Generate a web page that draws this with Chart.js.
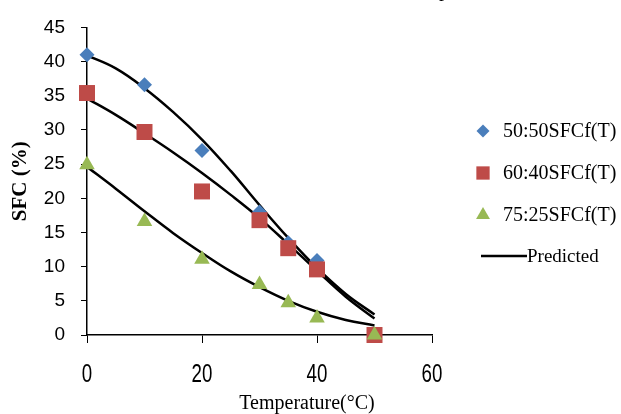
<!DOCTYPE html>
<html>
<head>
<meta charset="utf-8">
<script src="https://cdn.jsdelivr.net/npm/chart.js@4"></script>
<style>
  body { margin: 0; background: #fff; }
</style>
</head>
<body>
<canvas id="myChart" width="621" height="414"></canvas>
<script>
// measured points
const temps = [0, 10, 20, 30, 35, 40, 50];
const sfc5050 = [41.0, 36.6, 27.0, 18.0, 13.5, 10.9, 0];
const sfc6040 = [35.4, 29.7, 21.0, 16.8, 12.7, 9.6, 0];
const sfc7525 = [24.9, 16.6, 11.1, 7.4, 4.7, 2.5, 0];

// predicted curves, every 5 degrees
const fitTemps = [0, 5, 10, 15, 20, 25, 30, 35, 40, 45, 50];
const fit5050 = [40.9, 39.0, 36.1, 32.6, 28.6, 24.0, 19.0, 14.2, 9.8, 6.0, 3.0];
const fit6040 = [34.6, 32.2, 29.5, 26.7, 23.7, 20.5, 17.1, 13.3, 9.4, 5.6, 2.4];
const fit7525 = [24.6, 21.4, 18.1, 14.9, 12.0, 9.3, 7.0, 5.0, 3.4, 2.2, 1.4];

const xTicks = [0, 20, 40, 60];
const yTicks = [0, 5, 10, 15, 20, 25, 30, 35, 40, 45];

const seriesNames = ['50:50SFCf(T)', '60:40SFCf(T)', '75:25SFCf(T)', 'Predicted'];
const blue = '#4a7ebb';
const red = '#be4b48';
const green = '#98b954';

const sans = "'Liberation Sans', Arial, sans-serif";
const serif = "'Liberation Serif', 'Times New Roman', serif";

function pts(xs, ys) {
    return xs.map((x, i) => ({ x: x, y: ys[i] }));
}

function fitLine(ys) {
    return {
        label: 'Predicted',
        data: pts(fitTemps, ys),
        showLine: true,
        borderColor: '#000',
        borderWidth: 2.5,
        pointRadius: 0,
        tension: 0.4,
        fill: false,
        order: 5
    };
}

function markers(label, ys, style, color, r, order) {
    return {
        label: label,
        data: pts(temps, ys),
        showLine: false,
        pointStyle: style,
        pointRadius: r,
        pointHoverRadius: r,
        backgroundColor: color,
        borderColor: color,
        borderWidth: 0,
        clip: false,
        order: order
    };
}

// legend, x tick labels (squeezed like the original) and x title
const extras = {
    id: 'extras',
    afterDraw(chart) {
        const ctx = chart.ctx;
        ctx.save();
        const items = [
            { style: 'rectRot', color: blue, r: 6.5, y: 131 },
            { style: 'rect', color: red, r: 9.4, y: 173 },
            { style: 'triangle', color: green, r: 8, y: 215 }
        ];
        ctx.font = '20px ' + serif;
        ctx.textBaseline = 'middle';
        ctx.textAlign = 'left';
        items.forEach((it, i) => {
            ctx.fillStyle = it.color;
            Chart.helpers.drawPoint(ctx, { pointStyle: it.style, radius: it.r, rotation: 0, borderWidth: 0 }, 483, it.y);
            ctx.fillStyle = '#000';
            ctx.fillText(seriesNames[i], 503, it.y + 1);
        });
        ctx.strokeStyle = '#000';
        ctx.lineWidth = 2.5;
        ctx.beginPath();
        ctx.moveTo(481, 256);
        ctx.lineTo(527, 256);
        ctx.stroke();
        ctx.font = '19px ' + serif;
        ctx.fillText(seriesNames[3], 527, 257);

        // x tick labels
        const xs = chart.scales.x;
        ctx.font = '26px ' + sans;
        ctx.textAlign = 'center';
        ctx.textBaseline = 'alphabetic';
        xTicks.forEach(v => {
            const px = xs.getPixelForValue(v);
            ctx.save();
            ctx.translate(px, 382);
            ctx.scale(0.72, 1);
            ctx.fillText(String(v), 0, 0);
            ctx.restore();
        });

        ctx.font = '20px ' + serif;
        ctx.fillText('Temperature(\u00B0C)', 307, 409);
        ctx.fillText('p', 444, -4);
        ctx.restore();
    }
};

const config = {
    type: 'scatter',
    data: {
        datasets: [
            markers(seriesNames[0], sfc5050, 'rectRot', blue, 7.5, 2),
            markers(seriesNames[1], sfc6040, 'rect', red, 11.3, 1),
            markers(seriesNames[2], sfc7525, 'triangle', green, 9, 0),
            fitLine(fit5050),
            fitLine(fit6040),
            fitLine(fit7525)
        ]
    },
    options: {
        responsive: false,
        animation: false,
        devicePixelRatio: 1,
        layout: {
            padding: { top: 21, right: 189, left: 0, bottom: 0 }
        },
        scales: {
            x: {
                type: 'linear',
                min: 0,
                max: 60,
                z: 1,
                afterBuildTicks: s => { s.ticks = xTicks.map(v => ({ value: v })); },
                afterFit: s => { s.height = 79; },
                ticks: { display: false },
                grid: {
                    drawOnChartArea: false,
                    drawTicks: true,
                    tickLength: 8,
                    tickColor: '#000',
                    tickWidth: 1
                },
                border: { color: '#000', width: 1.5 }
            },
            y: {
                min: 0,
                max: 45,
                z: 1,
                afterBuildTicks: s => { s.ticks = yTicks.map(v => ({ value: v })); },
                afterFit: s => { s.width = 87; },
                ticks: {
                    color: '#000',
                    font: { family: sans, size: 19 },
                    padding: 16
                },
                grid: {
                    drawOnChartArea: false,
                    drawTicks: true,
                    tickLength: 6,
                    tickColor: '#000',
                    tickWidth: 1
                },
                border: { color: '#000', width: 1.5 },
                title: {
                    display: true,
                    text: 'SFC (%)',
                    color: '#000',
                    font: { family: serif, size: 21, weight: 'bold' },
                    padding: { top: 8, bottom: 0 }
                }
            }
        },
        plugins: {
            legend: { display: false },
            tooltip: { enabled: false }
        }
    },
    plugins: [extras]
};

const myChart = new Chart(document.getElementById('myChart'), config);
</script>
</body>
</html>
